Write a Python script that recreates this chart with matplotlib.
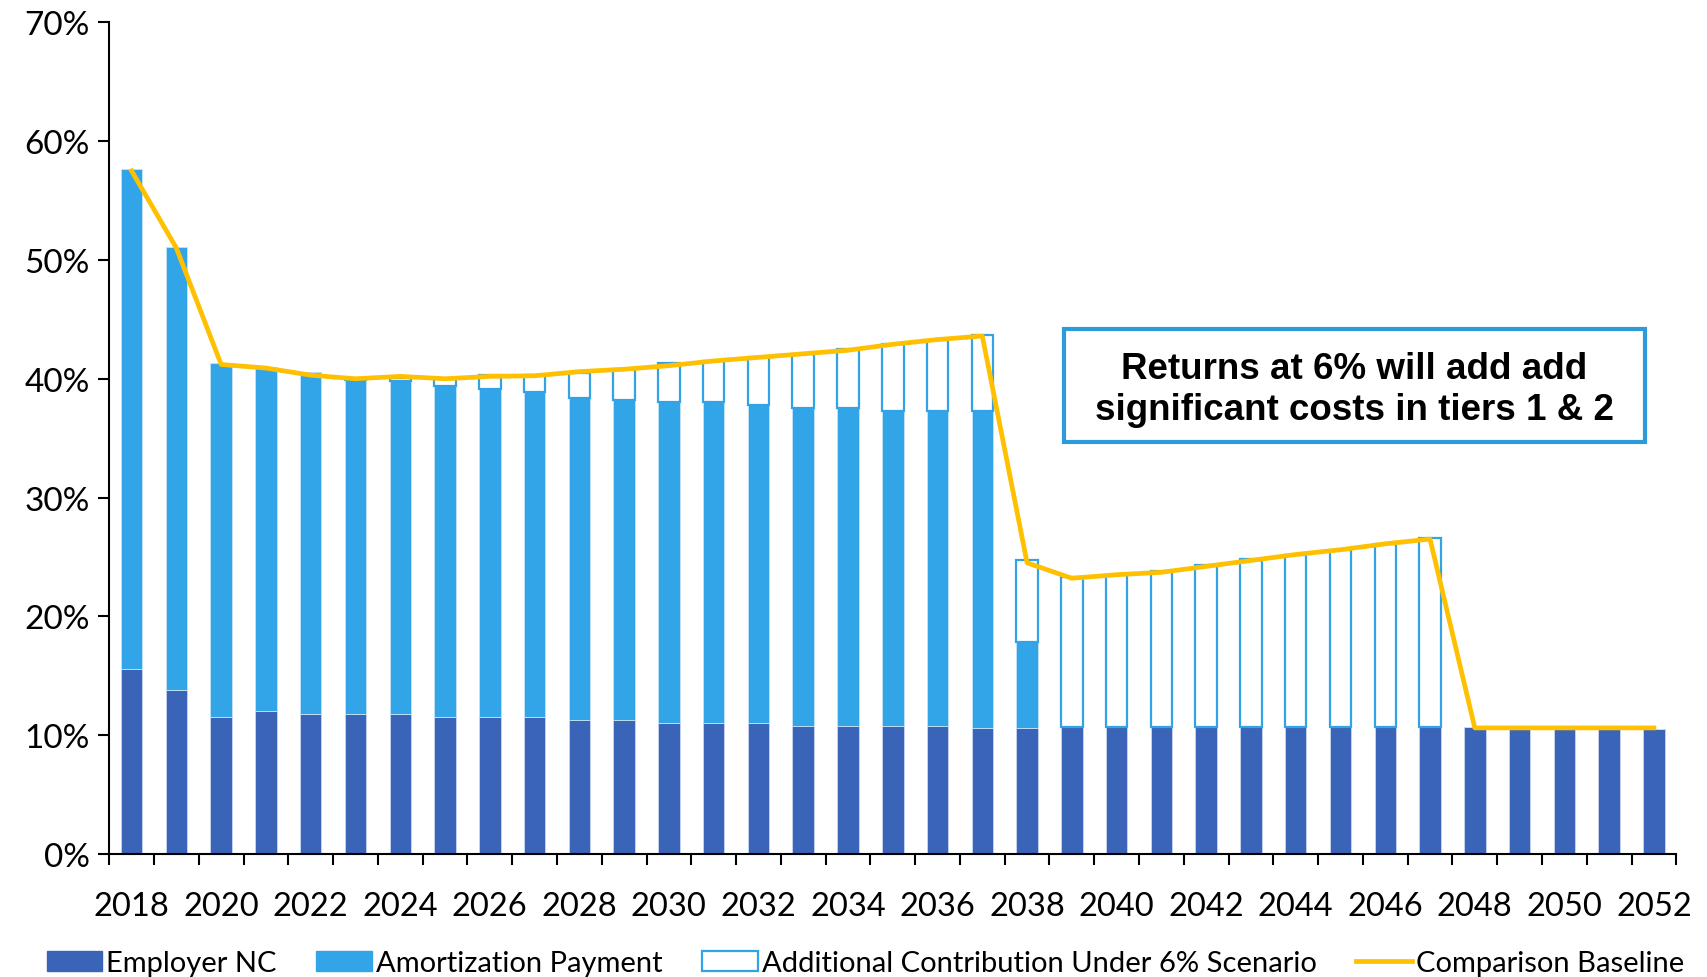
import numpy as np
import matplotlib
matplotlib.use("Agg")
import matplotlib.pyplot as plt
from matplotlib.patches import Patch, Rectangle
from matplotlib.lines import Line2D

years = list(range(2018, 2053))

# Employer normal cost, % of payroll
employer_nc = [15.6, 13.8, 11.5, 12.0, 11.75, 11.75, 11.75, 11.5, 11.5, 11.5,
               11.3, 11.3, 11.0, 11.0, 11.0, 10.8, 10.8, 10.8, 10.8, 10.6,
               10.6, 10.7, 10.7, 10.7, 10.7, 10.7, 10.7, 10.7, 10.7, 10.7,
               10.7, 10.5, 10.5, 10.5, 10.5]

amortization = [42.1, 37.3, 29.8, 29.0, 28.85, 28.15, 28.05, 27.9, 27.6, 27.4,
                27.1, 26.9, 27.0, 27.0, 26.8, 26.7, 26.7, 26.5, 26.5, 26.7,
                7.2, 0, 0, 0, 0, 0, 0, 0, 0, 0,
                0, 0, 0, 0, 0]

additional = [0, 0, 0, 0, 0, 0.1, 0.3, 0.6, 1.2, 1.4,
              2.1, 2.6, 3.3, 3.5, 4.0, 4.6, 5.0, 5.6, 6.0, 6.4,
              6.9, 12.6, 12.8, 13.1, 13.6, 14.1, 14.5, 14.9, 15.4, 15.9,
              0, 0, 0, 0, 0]

baseline = [57.5, 51.0, 41.2, 40.9, 40.3, 40.0, 40.2, 40.0, 40.2, 40.25,
            40.6, 40.8, 41.1, 41.5, 41.8, 42.1, 42.4, 42.9, 43.3, 43.6,
            24.5, 23.2, 23.5, 23.7, 24.2, 24.7, 25.2, 25.6, 26.1, 26.5,
            10.6, 10.6, 10.6, 10.6, 10.6]

note = "Returns at 6% will add add\nsignificant costs in tiers 1 & 2"

c_nc = "#3A64B8"
c_amort = "#32A4E8"
c_edge = "#33A3E8"
c_line = "#FFC000"

plt.rcParams["font.family"] = ["Lato", "DejaVu Sans"]

fig = plt.figure(figsize=(17.07, 9.78), dpi=100)
ax = fig.add_axes([0.064, 0.126, 0.918, 0.850])

x = np.arange(len(years))
nc = np.array(employer_nc)
am = np.array(amortization)
ad = np.array(additional)
w = 0.48

ax.bar(x, nc, w, color=c_nc, edgecolor="#C9D6EE", linewidth=0.6, zorder=2)
ax.bar(x, am, w, bottom=nc, color=c_amort, edgecolor="#C4E3F7", linewidth=0.6, zorder=2)
mask = ad > 0
ax.bar(x[mask], ad[mask], w, bottom=(nc + am)[mask], color="white",
       edgecolor=c_edge, linewidth=1.6, zorder=2)
ax.plot(x, baseline, color=c_line, linewidth=3.4, zorder=3)

ax.set_xlim(-0.5, len(years) - 0.5)
ax.set_ylim(0, 70)
ax.set_yticks(np.arange(0, 71, 10))
ax.set_yticklabels([f"{v}%" for v in range(0, 71, 10)], fontsize=24)
ax.set_xticks(x[::2])
ax.set_xticklabels([str(y) for y in years[::2]], fontsize=23.5)
ax.set_xticks(np.arange(-0.5, len(years), 1), minor=True)
ax.tick_params(axis="x", which="major", length=0, pad=27)
ax.tick_params(axis="x", which="minor", length=8, width=1.5, direction="out")
ax.tick_params(axis="y", length=8, width=1.5, direction="out", pad=6)

for s in ["top", "right"]:
    ax.spines[s].set_visible(False)
for s in ["left", "bottom"]:
    ax.spines[s].set_linewidth(1.5)

# callout box
ax.add_patch(Rectangle((0.609, 0.495), 0.371, 0.136, transform=ax.transAxes,
                       facecolor="white", edgecolor="#2E9AD9", linewidth=3, zorder=4))
ax.text(0.7945, 0.559, note, transform=ax.transAxes, ha="center", va="center",
        fontsize=26.5, fontweight="bold", family="Liberation Sans",
        linespacing=1.25, zorder=5)

handles = [
    Patch(facecolor=c_nc, edgecolor=c_nc),
    Patch(facecolor=c_amort, edgecolor=c_amort),
    Patch(facecolor="white", edgecolor=c_edge, linewidth=1.6),
    Line2D([0], [0], color=c_line, linewidth=3.4),
]
labels = ["Employer NC", "Amortization Payment",
          "Additional Contribution Under 6% Scenario", "Comparison Baseline"]
fig.legend(handles, labels, loc="lower center", bbox_to_anchor=(0.507, -0.026),
           ncol=4, frameon=False, fontsize=21, handlelength=1.9,
           handletextpad=0.15, columnspacing=1.35)

fig.savefig("out.png", dpi=100)
